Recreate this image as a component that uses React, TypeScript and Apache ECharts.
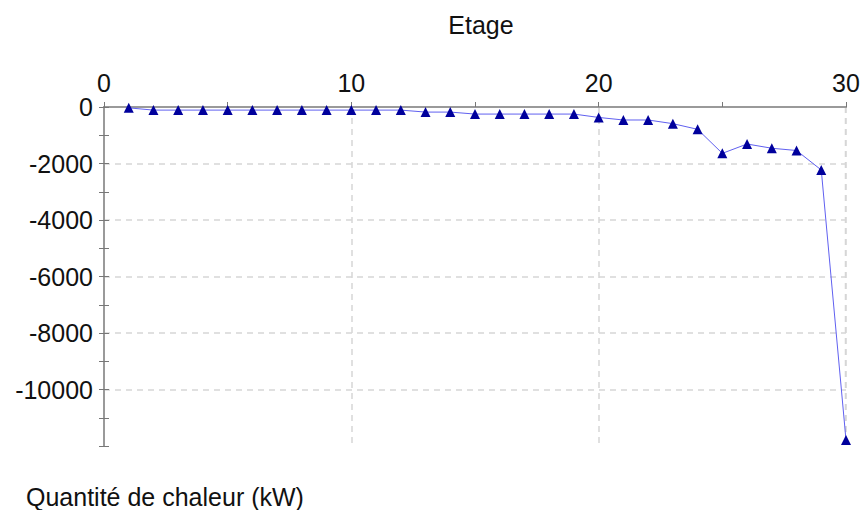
import React, { useEffect, useRef } from "react";
import * as echarts from "echarts";

const etages = [1, 2, 3, 4, 5, 6, 7, 8, 9, 10, 11, 12, 13, 14, 15, 16, 17, 18, 19, 20, 21, 22, 23, 24, 25, 26, 27, 28, 29, 30];
const chaleur = [-30, -110, -110, -110, -110, -110, -110, -110, -110, -110, -110, -110, -180, -180, -250, -250, -250, -250, -250, -370, -460, -460, -590, -790, -1640, -1310, -1460, -1540, -2230, -11790];
const xMax = 30;
const yMin = -12000;
const yMax = 0;

const xTitle = "Etage";
const yTitle = "Quantité de chaleur (kW)";

export default function App() {
  const ref = useRef<HTMLDivElement>(null);
  useEffect(() => {
    if (!ref.current) return;
    const chart = echarts.init(ref.current, null, { renderer: "svg" });
    const font = "'Liberation Sans', Arial, sans-serif";
    const axisGray = "#9a9a9a";
    const tickGray = "#777777";
    const gridDash = { color: "#d6d6d6", width: 1.5, type: [6, 5] as any };
    const fmt = (v: number) => String(v);
    const baseX = {
      type: "value" as const,
      position: "top" as const,
      min: 0,
      max: xMax,
      interval: 10,
    };
    const baseY = {
      type: "value" as const,
      position: "left" as const,
      min: yMin,
      max: yMax,
      interval: 2000,
    };
    chart.setOption({
      animation: false,
      backgroundColor: "#ffffff",
      grid: { left: 104, right: 17, top: 107, bottom: 64 },
      title: [
        {
          text: xTitle,
          left: 476,
          textAlign: "center",
          top: 7,
          textStyle: { fontFamily: font, fontSize: 25, fontWeight: "normal", color: "#111" },
        },
        {
          text: yTitle,
          left: 21,
          top: 479,
          textStyle: { fontFamily: font, fontSize: 25, fontWeight: "normal", color: "#111" },
        },
      ],
      xAxis: [
        {
          ...baseX,
          axisLine: { show: true, lineStyle: { color: axisGray, width: 2 } },
          axisTick: { show: true, length: 5, lineStyle: { color: tickGray, width: 1 } },
          minorTick: { show: true, splitNumber: 2, length: 5, lineStyle: { color: tickGray, width: 1 } },
          axisLabel: { fontFamily: font, fontSize: 25, color: "#111", margin: 12, formatter: fmt },
          splitLine: { show: true, lineStyle: gridDash, showMinLine: false, showMaxLine: true },
          z: 3,
        },
        {
          ...baseX,
          axisLine: { show: true, onZero: true, lineStyle: { color: axisGray, width: 2 } },
          axisTick: { show: true, inside: false, length: 5, lineStyle: { color: tickGray, width: 1 } },
          minorTick: { show: true, splitNumber: 2, length: 5, lineStyle: { color: tickGray, width: 1 } },
          axisLabel: { show: false },
          splitLine: { show: false },
          z: 3,
        },
      ],
      yAxis: [
        {
          ...baseY,
          axisLine: { show: true, lineStyle: { color: axisGray, width: 2 } },
          axisTick: { show: true, length: 5, lineStyle: { color: tickGray, width: 1 } },
          minorTick: { show: true, splitNumber: 2, length: 5, lineStyle: { color: tickGray, width: 1 } },
          axisLabel: {
            fontFamily: font,
            fontSize: 25,
            color: "#111",
            margin: 11,
            formatter: fmt,
            showMinLabel: false,
            padding: [5, 0, 0, 0],
          },
          splitLine: { show: true, lineStyle: gridDash, showMinLine: false, showMaxLine: false },
          z: 3,
        },
        {
          ...baseY,
          position: "right",
          axisLine: { show: true, onZero: true, lineStyle: { color: axisGray, width: 2 } },
          axisTick: { show: true, inside: false, length: 5, lineStyle: { color: tickGray, width: 1 } },
          minorTick: { show: true, splitNumber: 2, length: 5, lineStyle: { color: tickGray, width: 1 } },
          axisLabel: { show: false },
          splitLine: { show: false },
          z: 3,
        },
      ],
      series: [
        {
          type: "line",
          xAxisIndex: 0,
          yAxisIndex: 0,
          clip: false,
          data: etages.map((e, i) => [e, chaleur[i]]),
          symbol: "triangle",
          symbolSize: 10,
          itemStyle: { color: "#00009c" },
          lineStyle: { color: "#6060f0", width: 1 },
          z: 5,
        },
      ],
    });
    // dashed grid line at the axis maximum, positioned through the library's own scales
    const finder = { xAxisIndex: 0, yAxisIndex: 0 };
    const pTop = chart.convertToPixel(finder, [xMax, yMax]) as number[];
    const pBot = chart.convertToPixel(finder, [xMax, yMin]) as number[];
    if (pTop && pBot) {
      chart.setOption({
        graphic: [
          {
            type: "line",
            silent: true,
            z: 1,
            shape: { x1: pTop[0] - 0.5, y1: pTop[1], x2: pBot[0] - 0.5, y2: pBot[1] },
            style: { stroke: "#d6d6d6", lineWidth: 1.5, lineDash: [6, 5] },
          },
        ],
      });
    }
    return () => chart.dispose();
  }, []);
  return <div ref={ref} style={{ width: 863, height: 510, position: "absolute", left: 0, top: 0 }} />;
}
